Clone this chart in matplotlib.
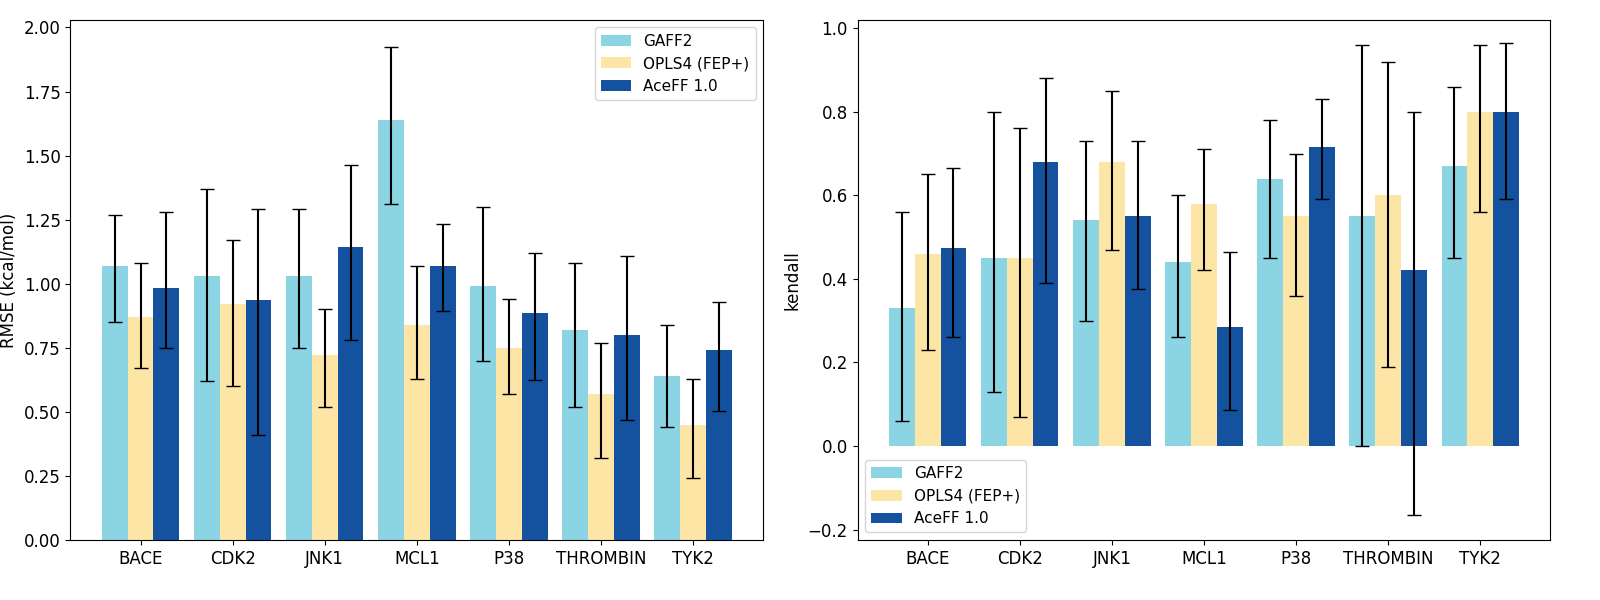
import numpy as np
import matplotlib
matplotlib.use('Agg')
import matplotlib.pyplot as plt

systems = ['BACE', 'CDK2', 'JNK1', 'MCL1', 'P38', 'THROMBIN', 'TYK2']
methods = ['GAFF2', 'OPLS4 (FEP+)', 'AceFF 1.0']
colors = ['#8ad4e3', '#fde6a5', '#1452a0']

# RMSE values and CI bounds per method
rmse = [[1.07, 1.03, 1.03, 1.64, 0.99, 0.82, 0.64],
        [0.87, 0.92, 0.72, 0.84, 0.75, 0.57, 0.45],
        [0.985, 0.935, 1.145, 1.07, 0.885, 0.80, 0.74]]
rmse_lo = [[0.85, 0.62, 0.75, 1.31, 0.70, 0.52, 0.44],
           [0.67, 0.60, 0.52, 0.63, 0.57, 0.32, 0.24],
           [0.75, 0.41, 0.78, 0.895, 0.625, 0.47, 0.505]]
rmse_hi = [[1.27, 1.37, 1.29, 1.925, 1.30, 1.08, 0.84],
           [1.08, 1.17, 0.90, 1.07, 0.94, 0.77, 0.63],
           [1.28, 1.29, 1.465, 1.235, 1.12, 1.11, 0.93]]

# Kendall tau values and CI bounds
kendall = [[0.33, 0.45, 0.54, 0.44, 0.64, 0.55, 0.67],
           [0.46, 0.45, 0.68, 0.58, 0.55, 0.60, 0.80],
           [0.475, 0.68, 0.55, 0.285, 0.715, 0.42, 0.80]]
kendall_lo = [[0.06, 0.13, 0.30, 0.26, 0.45, 0.0, 0.45],
              [0.23, 0.07, 0.47, 0.42, 0.36, 0.19, 0.56],
              [0.26, 0.39, 0.375, 0.085, 0.59, -0.165, 0.59]]
kendall_hi = [[0.56, 0.80, 0.73, 0.60, 0.78, 0.96, 0.86],
              [0.65, 0.76, 0.85, 0.71, 0.70, 0.92, 0.96],
              [0.665, 0.88, 0.73, 0.465, 0.83, 0.80, 0.965]]

plt.rcParams['font.size'] = 12
plt.rcParams['legend.fontsize'] = 11
fig, (ax1, ax2) = plt.subplots(1, 2, figsize=(16, 6), dpi=100)
x = np.arange(len(systems))
w = 0.28

def draw(ax, vals, lo, hi):
    for i, m in enumerate(methods):
        v = np.array(vals[i])
        err = [v - np.array(lo[i]), np.array(hi[i]) - v]
        ax.bar(x + (i - 1) * w, v, w, color=colors[i], label=m,
               yerr=err, capsize=5, ecolor='black', error_kw={'elinewidth': 1.5})
    ax.set_xticks(x)
    ax.set_xticklabels(systems)

draw(ax1, rmse, rmse_lo, rmse_hi)
ax1.set_ylabel('RMSE (kcal/mol)')
ax1.set_ylim(0, 2.03)
ax1.legend(loc='upper right')

draw(ax2, kendall, kendall_lo, kendall_hi)
ax2.set_ylabel('kendall')
ax2.set_ylim(-0.225, 1.02)
ax2.legend(loc='lower left')

plt.subplots_adjust(left=0.044, right=0.969, bottom=0.1, top=0.967, wspace=0.136)
plt.savefig('out.png')
